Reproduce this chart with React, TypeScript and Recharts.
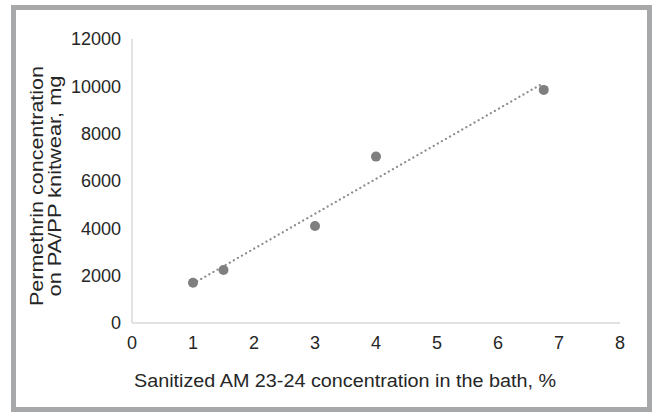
import React from "react";
import { ScatterChart, Scatter, XAxis, YAxis, Label } from "recharts";

const bathConcentration = [1, 1.5, 3, 4, 6.75];
const permethrin = [1700, 2240, 4100, 7030, 9850];
const trendX = [1, 6.75];
const trendY = [1665, 10147];
const xTicks = [0, 1, 2, 3, 4, 5, 6, 7, 8];
const yTicks = [0, 2000, 4000, 6000, 8000, 10000, 12000];
const xTitle = "Sanitized AM 23-24 concentration in the bath, %";
const yTitleLines = ["Permethrin concentration", "on PA/PP knitwear, mg"];

const points = bathConcentration.map((x, i) => ({ x, y: permethrin[i] }));
const trend = trendX.map((x, i) => ({ x, y: trendY[i] }));

const FONT = "'Liberation Sans', Arial, sans-serif";
const TEXT = "#262626";

const yTitleLengths = [240, 221];

const YTitle = (props: any) => {
  const vb = props.viewBox || { x: 72, y: 39, width: 60, height: 284 };
  const cy = 186;
  return (
    <g>
      {yTitleLines.map((line, i) => {
        const cx = vb.x - 35.5 + i * 18.5;
        return (
          <text
            key={i}
            x={cx}
            y={cy}
            transform={`rotate(-90, ${cx}, ${cy})`}
            textAnchor="middle"
            dominantBaseline="central"
            fontSize={17.5}
            fill={TEXT}
            fontFamily={FONT}
            textLength={yTitleLengths[i]}
            lengthAdjust="spacingAndGlyphs"
          >
            {line}
          </text>
        );
      })}
    </g>
  );
};

const XTitle = (props: any) => {
  const vb = props.viewBox || { x: 132, y: 323, width: 488, height: 30 };
  return (
    <text
      x={vb.x + vb.width / 2 - 31}
      y={381}
      textAnchor="middle"
      dominantBaseline="central"
      fontSize={17.5}
      fill={TEXT}
      fontFamily={FONT}
      textLength={422}
      lengthAdjust="spacingAndGlyphs"
    >
      {xTitle}
    </text>
  );
};

const NoShape = () => <g />;

export default function App() {
  return (
    <div style={{ position: "absolute", left: 0, top: 0, width: 652, height: 412, background: "#fff" }}>
      <div
        style={{
          position: "absolute",
          left: 11,
          top: 5,
          width: 641,
          height: 407,
          border: "5px solid #a7a8aa",
          boxSizing: "border-box",
        }}
      />
      <div style={{ position: "absolute", left: 0, top: 0 }}>
        <ScatterChart
          width={652}
          height={412}
          margin={{ top: 39, right: 32, bottom: 59, left: 72 }}
          style={{ fontFamily: FONT }}
        >
          <XAxis
            type="number"
            dataKey="x"
            domain={[0, 8]}
            ticks={xTicks}
            interval={0}
            tickLine={false}
            tickSize={0}
            tickMargin={13}
            height={30}
            axisLine={{ stroke: "#d9d9d9", strokeWidth: 1.5 }}
            tick={{ fill: TEXT, fontSize: 18, fontFamily: FONT }}
          >
            <Label content={<XTitle />} />
          </XAxis>
          <YAxis
            type="number"
            dataKey="y"
            domain={[0, 12000]}
            ticks={yTicks}
            interval={0}
            tickLine={false}
            tickSize={0}
            tickMargin={11}
            width={60}
            axisLine={{ stroke: "#d9d9d9", strokeWidth: 1.5 }}
            tick={{ fill: TEXT, fontSize: 18, fontFamily: FONT }}
          >
            <Label content={<YTitle />} />
          </YAxis>
          <Scatter
            data={trend}
            line={{ stroke: "#8c8c8c", strokeWidth: 2.2, strokeDasharray: "0.1 4.6", strokeLinecap: "round" }}
            shape={<NoShape />}
            isAnimationActive={false}
          />
          <Scatter data={points} fill="#7f7f7f" isAnimationActive={false} shape={(p: any) => <circle cx={p.cx} cy={p.cy} r={5} fill="#7f7f7f" />} />
        </ScatterChart>
      </div>
    </div>
  );
}
